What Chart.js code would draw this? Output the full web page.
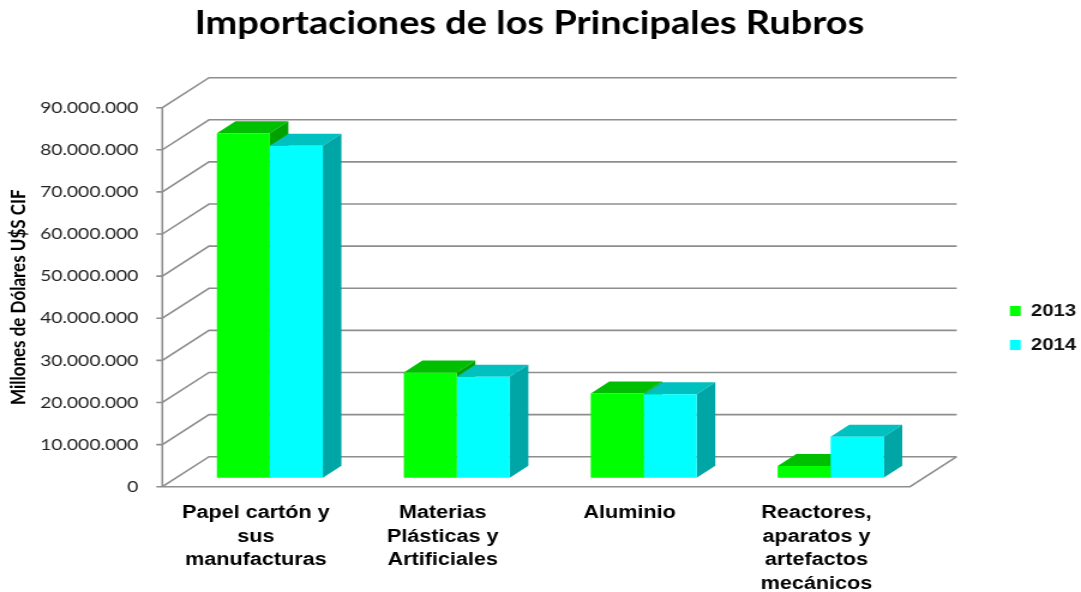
<!DOCTYPE html>
<html>
<head>
<meta charset="utf-8">
<script src="https://cdn.jsdelivr.net/npm/chart.js@4.4.0/dist/chart.umd.min.js"></script>
<style>
  html, body { margin: 0; padding: 0; background: #fff; overflow: hidden; }
  /* the original picture is stretched horizontally, so the chart is drawn narrow and widened */
  #wrap { width: 901px; height: 592px; transform: scaleX(1.19978); transform-origin: 0 0; }
</style>
</head>
<body>
<div id="wrap"><canvas id="chart" width="901" height="592"></canvas></div>
<script>
const categories = [
  ['Papel cartón y', 'sus', 'manufacturas'],
  ['Materias', 'Plásticas y', 'Artificiales'],
  ['Aluminio'],
  ['Reactores,', 'aparatos y', 'artefactos', 'mecánicos']
];
const seriesNames = ['2013', '2014'];
const values2013 = [81800000, 25000000, 20000000, 2800000];
const values2014 = [78800000, 24000000, 19800000, 9700000];
const yTickValues = [0, 10000000, 20000000, 30000000, 40000000, 50000000, 60000000, 70000000, 80000000, 90000000];

// front plane of the 3D box and the depth offsets (canvas px, before stretch)
const FRONT = { left: 135.3, top: 107.7, right: 758.5, bottom: 486.7 };
const DEPTH = { x: 38.9, y: -30 };
const BAR_OFF = { x: 11.7, y: -9 };
const BAR_DEPTH = { x: 15.5, y: -12 };
const LEGEND_POS = { left: 824.7, top: 285.5 };
const TITLE_CENTER = 441.3;

function dots(v) {
  return String(v).replace(/\B(?=(\d{3})+(?!\d))/g, '.');
}

function poly(ctx, pts, color) {
  ctx.fillStyle = color;
  ctx.beginPath();
  ctx.moveTo(pts[0][0], pts[0][1]);
  for (let i = 1; i < pts.length; i++) ctx.lineTo(pts[i][0], pts[i][1]);
  ctx.closePath();
  ctx.fill();
}

const box3d = {
  id: 'box3d',
  afterLayout(chart) {
    const lg = chart.legend;
    const w = lg.right - lg.left, h = lg.bottom - lg.top;
    lg.left = LEGEND_POS.left; lg.right = lg.left + w;
    lg.top = LEGEND_POS.top; lg.bottom = lg.top + h;
    const t = chart.titleBlock;
    const s = TITLE_CENTER - (t.left + t.right) / 2;
    t.left += s; t.right += s;
  },
  beforeDatasetsDraw(chart) {
    const { ctx, chartArea: a, scales: { y } } = chart;
    ctx.save();
    ctx.strokeStyle = '#8e8e8e';
    ctx.lineWidth = 1.6;
    ctx.beginPath();
    y.ticks.forEach(t => {
      const py = y.getPixelForValue(t.value);
      ctx.moveTo(a.left - 5, py);
      ctx.lineTo(a.left, py);
      ctx.lineTo(a.left + DEPTH.x, py + DEPTH.y);
      ctx.lineTo(a.right + DEPTH.x, py + DEPTH.y);
    });
    ctx.moveTo(a.left, a.top);
    ctx.lineTo(a.left, a.bottom);
    ctx.lineTo(a.right, a.bottom);
    ctx.lineTo(a.right + DEPTH.x, a.bottom + DEPTH.y);
    ctx.stroke();
    ctx.restore();

    ctx.save();
    ctx.translate(BAR_OFF.x, BAR_OFF.y);
    // tops and sides first, the library then paints the front faces over them
    chart.data.datasets.forEach((ds, di) => {
      chart.getDatasetMeta(di).data.forEach(bar => {
        const { x, y: top, base, width } = bar.getProps(['x', 'y', 'base', 'width'], true);
        const l = x - width / 2, r = x + width / 2;
        const bx = BAR_DEPTH.x, by = BAR_DEPTH.y;
        poly(ctx, [[l, top], [l + bx, top + by], [r + bx, top + by], [r, top]], ds.topColor);
        poly(ctx, [[r, top], [r + bx, top + by], [r + bx, base + by], [r, base]], ds.sideColor);
      });
    });
  },
  afterDatasetsDraw(chart) {
    chart.ctx.restore();
  }
};

const chart = new Chart(document.getElementById('chart'), {
  type: 'bar',
  data: {
    labels: categories,
    datasets: [
      { label: seriesNames[0], data: values2013, backgroundColor: '#00ff00', topColor: '#00bf00', sideColor: '#00a200',
        borderWidth: 0, categoryPercentage: 0.567, barPercentage: 1, clip: false },
      { label: seriesNames[1], data: values2014, backgroundColor: '#00ffff', topColor: '#00c0c0', sideColor: '#00a5a5',
        borderWidth: 0, categoryPercentage: 0.567, barPercentage: 1, clip: false }
    ]
  },
  options: {
    responsive: false,
    animation: false,
    layout: { padding: { left: 0, right: 40, top: 0, bottom: 0 } },
    scales: {
      x: {
        grid: { display: false, drawTicks: false },
        border: { display: false },
        ticks: { color: '#000', padding: 15, maxRotation: 0, autoSkip: false,
          font: { family: 'Liberation Sans', weight: 'bold', size: 18, lineHeight: 1.3 } },
        afterFit(scale) { scale.height = 592 - FRONT.bottom; }
      },
      y: {
        min: 0,
        max: 90000000,
        afterBuildTicks(scale) { scale.ticks = yTickValues.map(v => ({ value: v })); },
        grid: { display: false, drawTicks: false },
        border: { display: false },
        ticks: { color: '#222', padding: 20, callback: v => dots(v),
          font: { family: 'Lato', size: 16 } },
        title: { display: true, text: 'Millones de Dólares U$S CIF', color: '#000',
          padding: { top: 5, bottom: 0 },
          font: { family: 'Lato', weight: 'bold', size: 17 } },
        afterFit(scale) { scale.width = FRONT.left; }
      }
    },
    plugins: {
      title: {
        display: true,
        text: 'Importaciones de los Principales Rubros',
        color: '#000',
        padding: { top: 5, bottom: 66.7 },
        font: { family: 'Lato', weight: 'bold', size: 31.6, lineHeight: 1.2 }
      },
      legend: {
        position: 'right',
        align: 'start',
        labels: { boxWidth: 9, boxHeight: 10, padding: 17, color: '#111',
          font: { family: 'Liberation Sans', weight: 'bold', size: 17 } }
      },
      tooltip: { enabled: false }
    }
  },
  plugins: [box3d]
});

// nudge the padding so the plot area sits where the original's front plane is
for (let k = 0; k < 3; k++) {
  const a = chart.chartArea;
  const dr = a.right - FRONT.right;
  const dt = FRONT.top - a.top;
  if (Math.abs(dr) < 0.05 && Math.abs(dt) < 0.05) break;
  chart.options.layout.padding.right += dr;
  chart.options.plugins.title.padding.bottom += dt;
  chart.update('none');
}
</script>
</body>
</html>
